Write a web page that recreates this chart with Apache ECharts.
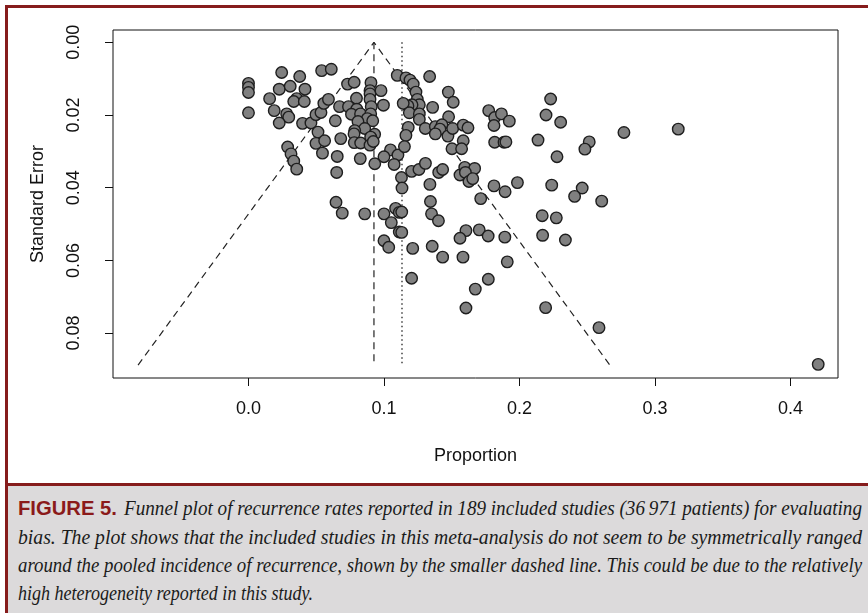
<!DOCTYPE html>
<html>
<head>
<meta charset="utf-8">
<script src="https://cdn.jsdelivr.net/npm/echarts@6/dist/echarts.min.js"></script>
<style>
  html, body { margin:0; padding:0; width:868px; height:613px; overflow:hidden; background:#fff; }
  #frame { position:absolute; left:5px; top:5px; width:900px; height:700px; border:3px solid #861c1c; box-sizing:border-box; }
  #chart { position:absolute; left:0; top:0; width:868px; height:484px; }
  #caption { position:absolute; left:8px; top:483px; width:900px; height:200px; background:#dcdadb; border-top:3px solid #861c1c; }
  .ln { position:absolute; white-space:nowrap; transform-origin:0 0; font-family:"Liberation Serif","DejaVu Serif",serif; font-style:italic; font-size:20px; color:#1a1a1a; line-height:22px; }
  .fig { font-family:"Liberation Sans Narrow","Liberation Sans",Arial,sans-serif; font-style:normal; font-weight:bold; color:#8b1a1a; }
</style>
</head>
<body>
<div id="frame"></div>
<div id="chart"></div>
<div id="caption"></div>
<div class="ln fig" data-w="99" style="left:18px; top:497px;">FIGURE 5.</div>
<div class="ln" data-w="738" style="left:124px; top:497px;">Funnel plot of recurrence rates reported in 189 included studies (36&#8201;971 patients) for evaluating</div>
<div class="ln" data-w="844" style="left:18px; top:526px;">bias. The plot shows that the included studies in this meta-analysis do not seem to be symmetrically ranged</div>
<div class="ln" data-w="844" style="left:18px; top:554px;">around the pooled incidence of recurrence, shown by the smaller dashed line. This could be due to the relatively</div>
<div class="ln" data-w="295" style="left:18px; top:582px;">high heterogeneity reported in this study.</div>
<script>
// ---- data ----
const proportion = [
0.000,0.000,0.000,0.000,0.0245,0.0378,0.0227,0.0308,0.0156,0.0356,
0.0334,0.0190,0.0282,0.0297,0.0227,0.0289,0.0314,0.0334,0.0356,0.0417,
0.0412,0.0399,0.0461,0.0498,0.0535,0.0556,0.0590,0.0540,0.0611,0.0513,
0.0498,0.0562,0.0546,0.0651,0.0655,0.0681,0.0641,0.0672,0.0646,0.0692,
0.0731,0.0780,0.0904,0.0897,0.0897,0.0978,0.0797,0.0897,0.0906,0.0738,
0.0996,0.0799,0.0760,0.0827,0.0902,0.0877,0.0808,0.0917,0.0858,0.0784,
0.0779,0.0931,0.0902,0.0781,0.0828,0.0897,0.0921,0.1048,0.1000,0.1103,
0.1075,0.0932,0.0825,0.0858,0.1000,0.1086,0.1113,0.1054,0.1113,0.1000,
0.1035,0.1098,0.1162,0.1192,0.1216,0.1236,0.1246,0.1261,0.1207,0.1177,
0.1142,0.1187,0.1261,0.1261,0.1305,0.1179,0.1162,0.1151,0.1337,0.1129,
0.1204,0.1258,0.1306,0.1133,0.1131,0.1131,0.1212,0.1204,0.1475,0.1511,
0.1359,0.1477,0.1379,0.1428,0.1413,0.1379,0.1472,0.1507,0.1585,0.1620,
0.1585,0.1502,0.1573,0.1404,0.1433,0.1339,0.1561,0.1596,0.1669,0.1601,
0.1627,0.1655,0.1343,0.1351,0.1402,0.1356,0.1433,0.1583,0.1605,0.1703,
0.1561,0.1674,0.1605,0.1714,0.1773,0.1817,0.1867,0.1925,0.1812,0.1817,
0.1886,0.1900,0.1812,0.1894,0.1985,0.1769,0.1892,0.1910,0.1770,0.2230,
0.2196,0.2304,0.2137,0.2277,0.2238,0.2168,0.2272,0.2171,0.2339,0.2193,
0.2515,0.2483,0.2771,0.3172,0.2463,0.2407,0.2607,0.2587,0.4205
];
const standardError = [
0.0113,0.0124,0.0138,0.0194,0.0083,0.0094,0.0129,0.0121,0.0155,0.0155,
0.0163,0.0188,0.0197,0.0206,0.0222,0.0288,0.0307,0.0327,0.0349,0.0129,
0.0163,0.0223,0.0222,0.0199,0.0193,0.0168,0.0157,0.0078,0.0074,0.0247,
0.0278,0.0271,0.0305,0.0358,0.0314,0.0265,0.0216,0.0177,0.0440,0.0470,
0.0115,0.0110,0.0111,0.0133,0.0142,0.0133,0.0154,0.0157,0.0177,0.0177,
0.0173,0.0184,0.0198,0.0197,0.0197,0.0210,0.0218,0.0216,0.0237,0.0243,
0.0252,0.0253,0.0261,0.0276,0.0277,0.0283,0.0273,0.0296,0.0315,0.0310,
0.0336,0.0334,0.0320,0.0472,0.0472,0.0457,0.0468,0.0496,0.0522,0.0546,
0.0564,0.0091,0.0098,0.0104,0.0115,0.0137,0.0157,0.0172,0.0172,0.0175,
0.0168,0.0194,0.0197,0.0212,0.0237,0.0234,0.0256,0.0287,0.0094,0.0372,
0.0355,0.0350,0.0333,0.0401,0.0467,0.0523,0.0567,0.0649,0.0137,0.0165,
0.0179,0.0205,0.0232,0.0227,0.0239,0.0252,0.0258,0.0237,0.0228,0.0235,
0.0271,0.0293,0.0293,0.0358,0.0350,0.0391,0.0365,0.0344,0.0347,0.0358,
0.0383,0.0375,0.0438,0.0472,0.0491,0.0561,0.0591,0.0591,0.0518,0.0516,
0.0539,0.0679,0.0731,0.0430,0.0188,0.0207,0.0197,0.0217,0.0229,0.0275,
0.0275,0.0274,0.0395,0.0411,0.0386,0.0533,0.0536,0.0604,0.0652,0.0156,
0.0200,0.0220,0.0269,0.0315,0.0393,0.0477,0.0483,0.0531,0.0544,0.0730,
0.0274,0.0294,0.0248,0.0239,0.0401,0.0424,0.0437,0.0785,0.0886
];
const pooledEstimate = 0.0926;      // dashed vertical line
const observedMean = 0.1133;        // dotted vertical line
const funnelMaxSE = 0.0888;
const funnelLeft = -0.0815;
const funnelRight = 0.2667;
const xTicks = [0, 0.1, 0.2, 0.3, 0.4];
const yTicks = [0, 0.02, 0.04, 0.06, 0.08];
const xTickLabels = ['0.0','0.1','0.2','0.3','0.4'];
const yTickLabels = ['0.00','0.02','0.04','0.06','0.08'];

const points = proportion.map((p, i) => [p, standardError[i]]);
const font = '"Liberation Sans", Arial, Helvetica, sans-serif';

const chart = echarts.init(document.getElementById('chart'), null, {renderer:'canvas'});
chart.setOption({
  animation: false,
  backgroundColor: 'transparent',
  grid: { left:113, top:30, width:725, height:348, show:true, borderColor:'#111', borderWidth:1, backgroundColor:'transparent' },
  xAxis: {
    type:'value', min:-0.1000, max:0.4351, position:'bottom',
    name:'Proportion', nameLocation:'middle', nameGap:69,
    nameTextStyle:{ fontFamily:font, fontSize:18, color:'#111' },
    axisLine:{ show:false, onZero:false },
    splitLine:{ show:false },
    axisTick:{ show:true, length:8, customValues:xTicks, lineStyle:{ color:'#111', width:1 } },
    axisLabel:{ show:true, margin:22, customValues:xTicks, fontFamily:font, fontSize:18, color:'#111',
      formatter: v => xTickLabels[xTicks.findIndex(t => Math.abs(t - v) < 1e-9)] }
  },
  yAxis: {
    type:'value', inverse:true, min:-0.00338, max:0.09235, position:'left',
    name:'Standard Error', nameLocation:'middle', nameGap:66,
    nameTextStyle:{ fontFamily:font, fontSize:18, color:'#111' },
    axisLine:{ show:false, onZero:false },
    splitLine:{ show:false },
    axisTick:{ show:true, length:8, customValues:yTicks, lineStyle:{ color:'#111', width:1 } },
    axisLabel:{ show:true, margin:30, rotate:90, customValues:yTicks, fontFamily:font, fontSize:18, color:'#111',
      formatter: v => yTickLabels[yTicks.findIndex(t => Math.abs(t - v) < 1e-9)] }
  },
  series: [
    { type:'line', symbol:'none', silent:true, z:1,
      data:[[funnelLeft, funnelMaxSE],[pooledEstimate, 0],[funnelRight, funnelMaxSE]],
      lineStyle:{ color:'#222', width:1.2, type:[7,5] } },
    { type:'line', symbol:'none', silent:true, z:1,
      data:[[pooledEstimate, 0],[pooledEstimate, funnelMaxSE]],
      lineStyle:{ color:'#222', width:1.2, type:[7,5] } },
    { type:'line', symbol:'none', silent:true, z:1,
      data:[[observedMean, 0],[observedMean, funnelMaxSE]],
      lineStyle:{ color:'#222', width:1.3, type:[1.5,3] } },
    { type:'scatter', z:3, symbol:'circle', symbolSize:11.5, data:points,
      itemStyle:{ color:'#808080', borderColor:'#1e1e1e', borderWidth:1.4, opacity:1 } }
  ]
});

// fit caption lines to their widths
document.querySelectorAll('.ln').forEach(el => {
  const w = el.getBoundingClientRect().width;
  const target = parseFloat(el.dataset.w);
  el.style.transform = 'scaleX(' + (target / w) + ')';
});
</script>
</body>
</html>
